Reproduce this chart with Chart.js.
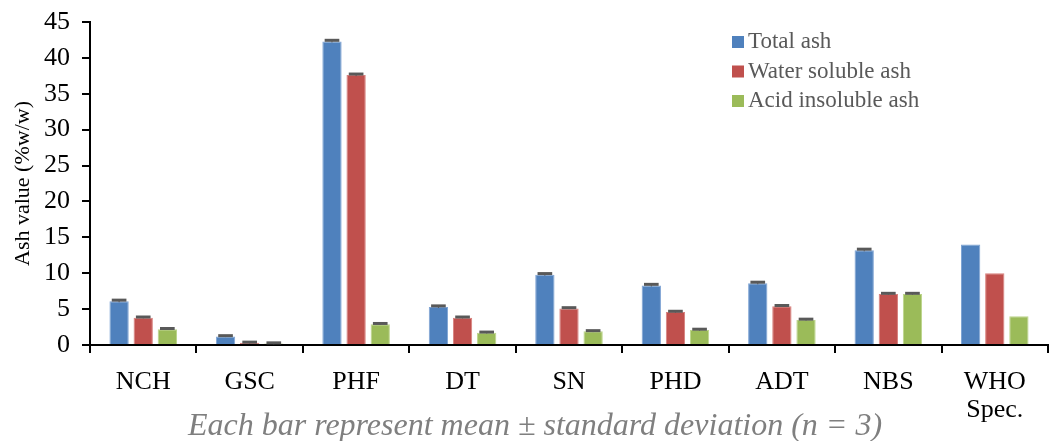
<!DOCTYPE html>
<html>
<head>
<meta charset="utf-8">
<script src="https://cdn.jsdelivr.net/npm/chart.js@4.4.1/dist/chart.umd.min.js"></script>
<style>
  html, body { margin: 0; padding: 0; background: #fff; }
  #wrap { width: 1050px; height: 441px; }
</style>
</head>
<body>
<div id="wrap"><canvas id="ashChart"></canvas></div>
<script>
// Data
const categories = ['NCH', 'GSC', 'PHF', 'DT', 'SN', 'PHD', 'ADT', 'NBS', ['WHO', 'Spec.']];
const totalAsh = [6.1, 1.2, 42.3, 5.3, 9.8, 8.3, 8.6, 13.2, 14];
const waterSolubleAsh = [3.8, 0.3, 37.6, 3.8, 5.1, 4.6, 5.4, 7.1, 10];
const acidInsolubleAsh = [2.2, 0.2, 2.9, 1.7, 1.9, 2.1, 3.5, 7.1, 4];
const totalAshSd = [0.15, 0.1, 0.15, 0.15, 0.15, 0.15, 0.15, 0.15, null];
const waterSolubleSd = [0.1, 0.1, 0.15, 0.1, 0.1, 0.1, 0.1, 0.1, null];
const acidInsolubleSd = [0.1, 0.1, 0.1, 0.1, 0.1, 0.1, 0.1, 0.1, null];
const yTicks = [0, 5, 10, 15, 20, 25, 30, 35, 40, 45];
const note = 'Each bar represent mean \u00b1 standard deviation (n = 3)';

Chart.defaults.font.family = '"Liberation Serif", "Times New Roman", serif';
Chart.defaults.color = '#000';

// error bar caps on top of each bar
const errorBars = {
    id: 'errorBars',
    afterDatasetsDraw(chart) {
        const ctx = chart.ctx;
        const y = chart.scales.y;
        ctx.save();
        ctx.strokeStyle = '#595959';
        chart.data.datasets.forEach((ds, i) => {
            const meta = chart.getDatasetMeta(i);
            meta.data.forEach((bar, j) => {
                const sd = ds.sd[j];
                if (sd == null) return;
                const top = y.getPixelForValue(ds.data[j] + sd);
                const low = y.getPixelForValue(ds.data[j] - sd);
                const half = bar.width * 0.38;
                ctx.lineWidth = 1;
                ctx.beginPath();
                ctx.moveTo(bar.x, top);
                ctx.lineTo(bar.x, low);
                ctx.stroke();
                ctx.lineWidth = 3;
                ctx.beginPath();
                ctx.moveTo(bar.x - half, top);
                ctx.lineTo(bar.x + half, top);
                ctx.stroke();
            });
        });
        ctx.restore();
    }
};

// legend inside plot + note under the axis
const extras = {
    id: 'extras',
    afterDraw(chart) {
        const ctx = chart.ctx;
        ctx.save();
        ctx.font = '23px "Liberation Serif", serif';
        ctx.textBaseline = 'middle';
        chart.data.datasets.forEach((ds, i) => {
            const yy = 42 + i * 29.5;
            ctx.fillStyle = ds.backgroundColor;
            ctx.fillRect(732, yy - 6, 12, 12);
            ctx.fillStyle = '#595959';
            ctx.fillText(ds.label, 748, yy);
        });
        ctx.font = 'italic 32px "Liberation Serif", serif';
        ctx.fillStyle = '#7f7f7f';
        ctx.textAlign = 'center';
        ctx.fillText(note, 535, 427);
        ctx.restore();
    }
};

const ctx = document.getElementById('ashChart').getContext('2d');
new Chart(ctx, {
    type: 'bar',
    data: {
        labels: categories,
        datasets: [
            { label: 'Total ash', data: totalAsh, sd: totalAshSd,
              backgroundColor: '#4F81BD', borderColor: '#7FA4D4', borderWidth: 1 },
            { label: 'Water soluble ash', data: waterSolubleAsh, sd: waterSolubleSd,
              backgroundColor: '#C0504D', borderColor: '#D8807D', borderWidth: 1 },
            { label: 'Acid insoluble ash', data: acidInsolubleAsh, sd: acidInsolubleSd,
              backgroundColor: '#9BBB59', borderColor: '#BCD58A', borderWidth: 1 }
        ]
    },
    options: {
        responsive: true,
        maintainAspectRatio: false,
        animation: false,
        layout: { padding: { top: 22, right: 2, left: 0, bottom: 0 } },
        datasets: { bar: { categoryPercentage: 0.68, barPercentage: 0.8 } },
        plugins: {
            legend: { display: false },
            tooltip: { enabled: false }
        },
        scales: {
            x: {
                afterFit: s => { s.height = 96; s.paddingLeft = 0; s.paddingRight = 0; },
                grid: { offset: true, drawOnChartArea: false, color: '#000', lineWidth: 2, tickLength: 8 },
                border: { color: '#000', width: 2 },
                ticks: { font: { size: 26, lineHeight: 1.08 }, color: '#000', padding: 15, maxRotation: 0 }
            },
            y: {
                min: 0, max: 45,
                afterFit: s => { s.width = 90; s.paddingTop = 0; s.paddingBottom = 0; },
                afterBuildTicks: s => { s.ticks = yTicks.map(v => ({ value: v })); },
                grid: { drawOnChartArea: false, color: '#000', lineWidth: 2, tickLength: 8 },
                border: { color: '#000', width: 2 },
                ticks: { font: { size: 26 }, color: '#000', padding: 12 },
                title: { display: true, text: 'Ash value (%w/w)', font: { size: 22 }, color: '#000', padding: { top: 10, bottom: 0 } }
            }
        }
    },
    plugins: [errorBars, extras]
});
</script>
</body>
</html>
